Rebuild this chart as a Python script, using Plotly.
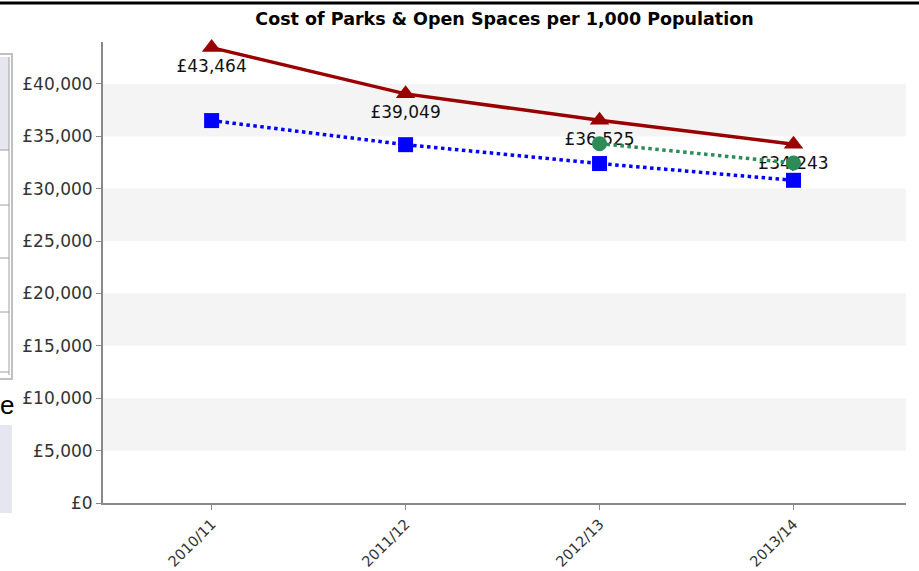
import plotly.graph_objects as go

categories = ["2010/11", "2011/12", "2012/13", "2013/14"]
red_values = [43464, 39049, 36525, 34243]
red_labels = ["£43,464", "£39,049", "£36,525", "£34,243"]
blue_values = [36500, 34200, 32400, 30800]
green_categories = ["2012/13", "2013/14"]
green_values = [34300, 32450]
y_tick_values = [0, 5000, 10000, 15000, 20000, 25000, 30000, 35000, 40000]
y_tick_labels = ["£0", "£5,000", "£10,000", "£15,000", "£20,000", "£25,000", "£30,000", "£35,000", "£40,000"]

W, H = 919, 571
L, R, T, B = 103, 13, 42, 68
pw, ph = W - L - R, H - T - B

def px(x):
    return (x - L) / pw

def py(y):
    return (H - B - y) / ph

FONT = "DejaVu Sans"

fig = go.Figure()

# alternating bands
shapes = []
for lo in [5000, 15000, 25000, 35000]:
    shapes.append(dict(type="rect", xref="paper", yref="y", x0=0, x1=1, y0=lo, y1=lo + 5000,
                       fillcolor="#f4f4f4", line=dict(width=0), layer="below"))

# screenshot artifacts: top black rule and left-side panel edges
shapes.append(dict(type="line", xref="paper", yref="paper", x0=px(0), x1=px(919), y0=py(3), y1=py(3),
                   line=dict(color="black", width=3)))
shapes.append(dict(type="rect", xref="paper", yref="paper", x0=px(-5), x1=px(12), y0=py(54), y1=py(379),
                   line=dict(color="#c0c0c0", width=2), fillcolor="white", layer="below"))
shapes.append(dict(type="rect", xref="paper", yref="paper", x0=px(-5), x1=px(9), y0=py(57), y1=py(150),
                   line=dict(width=0), fillcolor="#e6e6f0", layer="below"))
for yy in [150, 205, 258, 312, 372]:
    shapes.append(dict(type="line", xref="paper", yref="paper", x0=px(-5), x1=px(9), y0=py(yy), y1=py(yy),
                       line=dict(color="#a0a0a0", width=1)))
shapes.append(dict(type="line", xref="paper", yref="paper", x0=px(9), x1=px(9), y0=py(57), y1=py(375),
                   line=dict(color="#a0a0a0", width=1)))
shapes.append(dict(type="rect", xref="paper", yref="paper", x0=px(-5), x1=px(12), y0=py(425), y1=py(513),
                   line=dict(width=0), fillcolor="#e6e6f0", layer="below"))

fig.add_trace(go.Scatter(
    x=categories, y=red_values, mode="lines+markers+text",
    line=dict(color="#990000", width=3.5),
    marker=dict(symbol="triangle-up", size=17, color="#990000"),
    text=red_labels, textposition="bottom center",
    textfont=dict(family=FONT, size=17, color="#111111"),
    hoverinfo="skip", showlegend=False, cliponaxis=False))

fig.add_trace(go.Scatter(
    x=categories, y=blue_values, mode="lines+markers",
    line=dict(color="#0000ff", width=3.5, dash="dot"),
    marker=dict(symbol="square", size=15, color="#0000ff"),
    hoverinfo="skip", showlegend=False))

fig.add_trace(go.Scatter(
    x=green_categories, y=green_values, mode="lines+markers",
    line=dict(color="#2e8b57", width=3.5, dash="dot"),
    marker=dict(symbol="circle", size=15, color="#2e8b57"),
    hoverinfo="skip", showlegend=False))

fig.add_annotation(xref="paper", yref="paper", x=px(7), y=py(405), text="e", showarrow=False,
                   font=dict(family="Liberation Sans", size=26, color="black"), xanchor="center", yanchor="middle")

fig.update_layout(
    width=W, height=H,
    margin=dict(l=L, r=R, t=T, b=B, autoexpand=False),
    paper_bgcolor="white", plot_bgcolor="white",
    shapes=shapes,
    title=dict(text="<b>Cost of Parks & Open Spaces per 1,000 Population</b>",
               x=0.5, xref="paper", xanchor="center", y=1 - 19 / H, yanchor="middle", yref="container",
               automargin=False,
               font=dict(family=FONT, size=17.5, color="black")),
    font=dict(family=FONT, size=14, color="#333333"),
)
fig.update_xaxes(
    type="category", categoryorder="array", categoryarray=categories,
    range=[-0.56, 3.58], showgrid=False, zeroline=False, automargin=False,
    showline=True, linecolor="#888888", linewidth=2,
    ticks="outside", ticklen=5, tickcolor="#888888",
    tickangle=-45, tickfont=dict(family=FONT, size=14.5, color="#333333"))
fig.update_yaxes(
    range=[0, 44000], showgrid=False, zeroline=False, automargin=False,
    showline=True, linecolor="#888888", linewidth=2,
    ticks="outside", ticklen=5, tickcolor="#888888",
    tickvals=y_tick_values, ticktext=y_tick_labels,
    tickfont=dict(family=FONT, size=17, color="#333333"))

fig.write_html("out.html", config={"displayModeBar": False},
               post_script="document.body.style.margin='0';document.body.style.overflow='hidden';")
